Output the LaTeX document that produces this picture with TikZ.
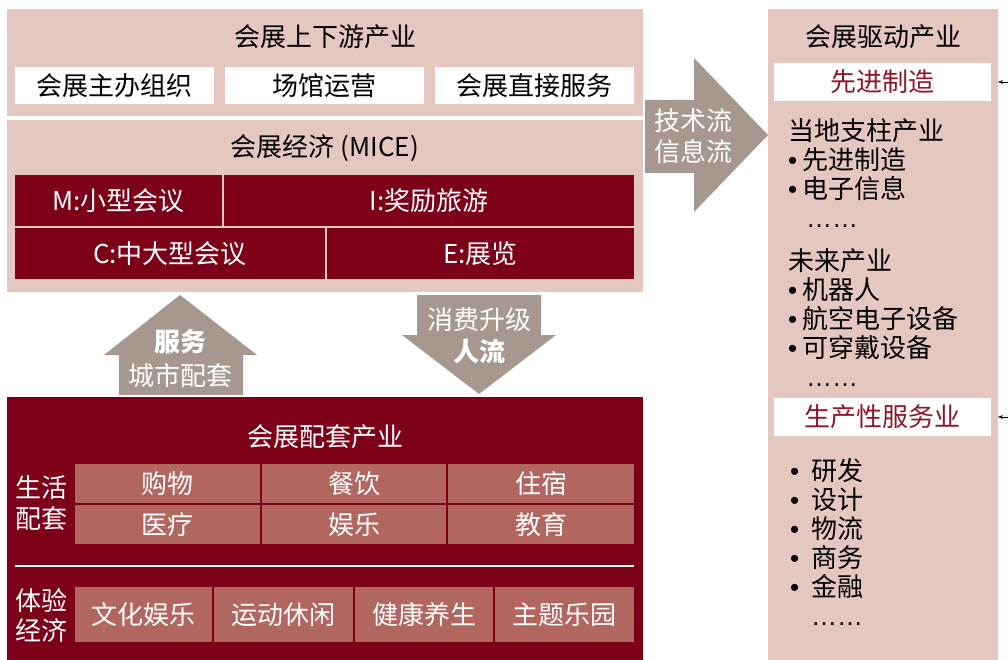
\documentclass[tikz,border=0pt]{standalone}
\usepackage{fontspec}
\setmainfont{Noto Sans CJK SC}
\newfontfamily\latinf{Liberation Sans}
\usetikzlibrary{arrows.meta, positioning}
\definecolor{panelpink}{RGB}{228,199,191}
\definecolor{wine}{RGB}{123,0,24}
\definecolor{cellred}{RGB}{177,102,95}
\definecolor{flowgray}{RGB}{166,152,143}
\definecolor{boxred}{RGB}{140,22,42}
\newcommand{\bul}[1][5pt]{{\latinf •}\hspace{#1}}
\newcommand{\moredots}{{\latinf ……}}

\begin{document}
\begin{tikzpicture}[x=1pt, y=-1pt, font=\fontsize{26}{29}\selectfont,
    panel/.style={rectangle, fill=panelpink, inner sep=0pt, outer sep=0pt},
    wbox/.style={rectangle, fill=white, inner sep=0pt, outer sep=0pt, minimum height=37pt},
    redbox/.style={wbox, text=boxred, minimum width=217pt, minimum height=38pt},
    mice/.style={rectangle, fill=wine, text=white, inner sep=0pt, outer sep=0pt, minimum height=51pt},
    life/.style={rectangle, fill=cellred, text=white, inner sep=0pt, outer sep=0pt},
    lbl/.style={inner sep=0pt},
    flowtxt/.style={inner sep=0pt, text=white, align=center}]

    \useasboundingbox (0,0) rectangle (1008,660);

    % upstream and downstream
    \node[panel, minimum width=636pt, minimum height=107pt] (chain) at (325,62.5) {};
    \node[lbl] (chaintitle) at (325,37) {会展上下游产业};
    \node[wbox, minimum width=199pt] (organizer) at (114.5,85.5) {会展主办组织};
    \node[wbox, minimum width=199pt] (venue) at (324.5,85.5) {场馆运营};
    \node[wbox, minimum width=199pt] (service) at (534.5,85.5) {会展直接服务};

    % MICE
    \node[panel, minimum width=636pt, minimum height=172pt] (mice) at (325,206) {};
    \node[lbl] (micetitle) at (325,148) {会展经济 (MICE)};
    \node[mice, minimum width=207pt] (meeting) at (118.5,201) {M:小型会议};
    \node[mice, minimum width=410pt] (incentive) at (429,201) {I:奖励旅游};
    \node[mice, minimum width=310pt] (convention) at (170,253.5) {C:中大型会议};
    \node[mice, minimum width=307pt] (exhibition) at (480.5,253.5) {E:展览};

    % driven industries
    \node[panel, minimum width=230pt, minimum height=651pt] (driver) at (883,334.5) {};
    \node[lbl] (drivertitle) at (883,37) {会展驱动产业};
    \node[redbox] (advanced) at (882.5,82) {先进制造};
    \node[lbl, anchor=north west, align=left] (pillar) at (788,118)
        {当地支柱产业\\\bul 先进制造\\\bul 电子信息\\\hspace{18pt}\moredots};
    \node[lbl, anchor=north west, align=left] (future) at (788,248)
        {未来产业\\\bul 机器人\\\bul 航空电子设备\\\bul 可穿戴设备\\\hspace{18pt}\moredots};
    \node[redbox] (producer) at (882.5,417) {生产性服务业};
    \node[lbl, anchor=north west, align=left] (services) at (790,458)
        {\bul[12pt]研发\\\bul[12pt]设计\\\bul[12pt]物流\\\bul[12pt]商务\\\bul[12pt]金融\\\hspace{21pt}\moredots};
    \coordinate (cue1) at (1008,82);
    \coordinate (cue2) at (1008,417);
    \draw[-{Stealth[length=5pt]}, thin] (cue1) -- (cue1 -| driver.east);
    \draw[-{Stealth[length=5pt]}, thin] (cue2) -- (cue2 -| driver.east);

    % flows
    \fill[flowgray] (645,100) -- (694,100) -- (694,58) -- (768,135) -- (694,212) -- (694,173) -- (645,173) -- cycle;
    \node[flowtxt, font=\fontsize{26}{31}\selectfont] (techflow) at (693,136) {技术流\\信息流};
    \fill[flowgray] (119,395) -- (119,355) -- (104,355) -- (180,295) -- (257,355) -- (243,355) -- (243,395) -- cycle;
    \node[flowtxt] (serve) at (180,342) {\bfseries 服务};
    \node[flowtxt] (citysupport) at (180,376) {城市配套};
    \fill[flowgray] (417,295) -- (541,295) -- (541,335) -- (556,335) -- (479,394) -- (402,335) -- (417,335) -- cycle;
    \node[flowtxt] (upgrade) at (479,320) {消费升级};
    \node[flowtxt] (people) at (479,352) {\bfseries 人流};

    % supporting industries
    \node[rectangle, fill=wine, inner sep=0pt, outer sep=0pt, minimum width=636pt, minimum height=263pt] (support) at (325,528.5) {};
    \node[lbl, text=white] (supporttitle) at (325,437) {会展配套产业};
    \node[lbl, text=white, anchor=west, align=left, font=\fontsize{26}{31}\selectfont] (living) at (15,503) {生活\\配套};
    \node[life, minimum width=185pt, minimum height=39pt] (shopping) at (167.5,483.5) {购物};
    \node[life, minimum width=184pt, minimum height=39pt] (dining) at (354,483.5) {餐饮};
    \node[life, minimum width=186pt, minimum height=39pt] (lodging) at (541,483.5) {住宿};
    \node[life, minimum width=185pt, minimum height=39pt] (medical) at (167.5,524.5) {医疗};
    \node[life, minimum width=184pt, minimum height=39pt] (leisure) at (354,524.5) {娱乐};
    \node[life, minimum width=186pt, minimum height=39pt] (education) at (541,524.5) {教育};
    \coordinate (sepl) at (15,566);
    \coordinate (sepr) at (634,566);
    \draw[white, line width=1.5pt] (sepl) -- (sepr);
    \node[lbl, text=white, anchor=west, align=left, font=\fontsize{26}{30}\selectfont] (experience) at (15,615) {体验\\经济};
    \node[life, minimum width=137pt, minimum height=55pt] (culture) at (143.5,614.5) {文化娱乐};
    \node[life, minimum width=139pt, minimum height=55pt] (sports) at (283.5,614.5) {运动休闲};
    \node[life, minimum width=138pt, minimum height=55pt] (health) at (424,614.5) {健康养生};
    \node[life, minimum width=139pt, minimum height=55pt] (themepark) at (564.5,614.5) {主题乐园};
\end{tikzpicture}
\end{document}
